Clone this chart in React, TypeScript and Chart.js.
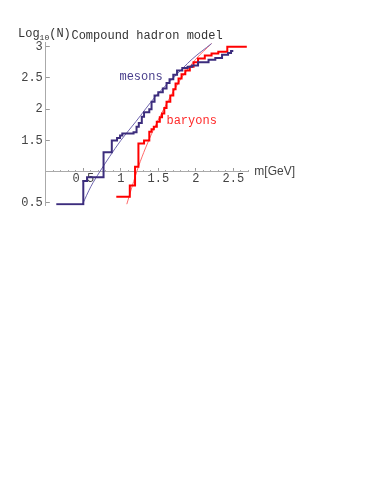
import React, { useEffect, useRef } from 'react';
import { Chart, registerables } from 'chart.js';

Chart.register(...registerables);

// ---- data (mass in GeV, log10 of cumulative number of states) ----
const mesonMass = [0.14, 0.50, 0.55, 0.77, 0.88, 0.95, 0.99, 1.02, 1.17, 1.21, 1.24, 1.28, 1.31, 1.38, 1.41, 1.45, 1.50, 1.56, 1.61, 1.65, 1.70, 1.75, 1.82, 1.89, 1.95, 2.03, 2.17, 2.26, 2.35, 2.43, 2.47, 2.50];
const mesonLog = [0.48, 0.85, 0.91, 1.31, 1.50, 1.54, 1.58, 1.61, 1.63, 1.72, 1.78, 1.88, 1.95, 2.00, 2.12, 2.22, 2.27, 2.33, 2.42, 2.48, 2.55, 2.62, 2.66, 2.68, 2.70, 2.75, 2.79, 2.82, 2.87, 2.90, 2.93, 2.93];

const baryonMass = [0.94, 1.12, 1.19, 1.235, 1.31, 1.38, 1.41, 1.44, 1.48, 1.52, 1.55, 1.58, 1.61, 1.66, 1.70, 1.73, 1.77, 1.81, 1.86, 1.92, 1.97, 2.03, 2.12, 2.21, 2.30, 2.42, 2.68];
const baryonLog = [0.60, 0.78, 1.08, 1.45, 1.50, 1.64, 1.68, 1.72, 1.80, 1.87, 1.93, 2.02, 2.12, 2.22, 2.32, 2.41, 2.49, 2.56, 2.62, 2.68, 2.75, 2.81, 2.86, 2.89, 2.92, 3.00, 3.00];

const mesonFitMass = [0.49, 0.60, 0.72, 0.85, 1.00, 1.20, 1.46, 1.70, 1.95, 2.21];
const mesonFitLog = [0.48, 0.76, 1.00, 1.24, 1.50, 1.80, 2.20, 2.50, 2.80, 3.05];

const baryonFitMass = [1.08, 1.15, 1.235, 1.33, 1.435, 1.55, 1.68, 1.82, 2.00, 2.21];
const baryonFitLog = [0.48, 0.76, 1.08, 1.38, 1.67, 1.95, 2.24, 2.52, 2.80, 3.05];

const xTicks = [0.5, 1, 1.5, 2, 2.5];
const yTicks = [0.5, 1, 1.5, 2, 2.5, 3];
const yTickHidden = [1];

const titleText = 'Compound hadron model';
const mesonLabel = 'mesons';
const baryonLabel = 'baryons';
const xAxisLabel = 'm[GeV]';

const MESON_COLOR = '#3c2d7d';
const MESON_FIT_COLOR = '#6e64ae';
const BARYON_COLOR = '#ff0000';
const BARYON_FIT_COLOR = '#ff6a6a';
const MONO = '"Liberation Mono", "DejaVu Sans Mono", monospace';

const pts = (xs: number[], ys: number[]) => xs.map((x, i) => ({ x, y: ys[i] }));

const onMinor = (v: number) => Math.abs(v * 10 - Math.round(v * 10)) < 1e-6;

const textPlugin = {
  id: 'textPlugin',
  afterDraw(chart: any) {
    const { ctx, scales } = chart;
    const xs = scales.x;
    const ys = scales.y;
    ctx.save();
    // series labels
    ctx.font = `12px ${MONO}`;
    ctx.textAlign = 'center';
    ctx.textBaseline = 'middle';
    ctx.fillStyle = '#483d8b';
    ctx.fillText(mesonLabel, xs.getPixelForValue(1.27), ys.getPixelForValue(2.51));
    ctx.fillStyle = '#ff2a2a';
    ctx.fillText(baryonLabel, xs.getPixelForValue(1.945), ys.getPixelForValue(1.81));
    // x axis label
    ctx.font = '12px "Liberation Sans", Arial, sans-serif';
    ctx.fillStyle = '#444';
    ctx.textAlign = 'left';
    ctx.fillText(xAxisLabel, chart.chartArea.right + 6, ys.getPixelForValue(1));
    // y axis label Log10(N)
    ctx.fillStyle = '#333';
    ctx.textBaseline = 'alphabetic';
    let px = 18;
    const base = 37;
    ctx.font = `12px ${MONO}`;
    ctx.fillText('Log', px, base);
    px += ctx.measureText('Log').width;
    ctx.font = `8px ${MONO}`;
    ctx.fillText('10', px, base + 3);
    px += ctx.measureText('10').width;
    ctx.font = `12px ${MONO}`;
    ctx.fillText('(N)', px, base);
    ctx.restore();
  },
};

export default function App() {
  const canvasRef = useRef<HTMLCanvasElement | null>(null);

  useEffect(() => {
    const canvas = canvasRef.current;
    if (!canvas) return;
    const chart = new Chart(canvas, {
      type: 'line',
      data: {
        datasets: [
          {
            label: 'mesons',
            data: pts(mesonMass, mesonLog),
            borderColor: MESON_COLOR,
            borderWidth: 2,
            stepped: 'before',
            pointRadius: 0,
            fill: false,
            borderJoinStyle: 'miter',
          },
          {
            label: 'baryons',
            data: pts(baryonMass, baryonLog),
            borderColor: BARYON_COLOR,
            borderWidth: 2,
            stepped: 'before',
            pointRadius: 0,
            fill: false,
            borderJoinStyle: 'miter',
          },
          {
            label: 'meson fit',
            data: pts(mesonFitMass, mesonFitLog),
            borderColor: MESON_FIT_COLOR,
            borderWidth: 1,
            cubicInterpolationMode: 'monotone',
            pointRadius: 0,
            fill: false,
          },
          {
            label: 'baryon fit',
            data: pts(baryonFitMass, baryonFitLog),
            borderColor: BARYON_FIT_COLOR,
            borderWidth: 1,
            cubicInterpolationMode: 'monotone',
            pointRadius: 0,
            fill: false,
          },
        ],
      },
      options: {
        responsive: false,
        animation: false,
        devicePixelRatio: 1,
        layout: { padding: { left: 5.8, right: 130.7, top: 28.55, bottom: 285.55 } },
        plugins: {
          legend: { display: false },
          tooltip: { enabled: false },
          title: {
            display: true,
            text: titleText,
            fullSize: false,
            color: '#333',
            font: { family: MONO, size: 12, weight: 'normal', lineHeight: 1.2 },
            padding: { top: 0, bottom: 0 },
          },
        },
        scales: {
          x: {
            type: 'linear',
            min: 0,
            max: 2.7,
            position: { y: 1 },
            afterFit: (s: any) => { s.height = 0; },
            afterBuildTicks: (s: any) => { s.ticks = xTicks.map((v) => ({ value: v })); },
            ticks: {
              autoSkip: false,
              maxRotation: 0,
              padding: 4,
              color: '#444',
              font: { family: MONO, size: 12 },
              callback: (v: any) => String(v),
            },
            grid: { drawOnChartArea: false, drawTicks: true, tickLength: -4, tickColor: '#999', tickWidth: 1 },
            border: { display: true, color: '#aaa', width: 1 },
          },
          xMinor: {
            type: 'linear',
            axis: 'x',
            min: 0,
            max: 2.7,
            position: { y: 1 },
            afterFit: (s: any) => { s.height = 0; },
            afterBuildTicks: (s: any) => { s.ticks = s.ticks.filter((t: any) => onMinor(t.value)); },
            ticks: { display: false, stepSize: 0.1, autoSkip: false },
            grid: { drawOnChartArea: false, drawTicks: true, tickLength: -2, tickColor: '#aaa', tickWidth: 1 },
            border: { display: false },
          },
          y: {
            type: 'linear',
            min: 0.46,
            max: 3.06,
            position: 'left',
            afterFit: (s: any) => { s.width = 40; },
            afterBuildTicks: (s: any) => { s.ticks = yTicks.map((v) => ({ value: v })); },
            ticks: {
              autoSkip: false,
              padding: 7,
              color: '#444',
              font: { family: MONO, size: 12 },
              callback: (v: any) => (yTickHidden.includes(v) ? '' : String(v)),
            },
            grid: { drawOnChartArea: false, drawTicks: true, tickLength: -4, tickColor: '#999', tickWidth: 1 },
            border: { display: true, color: '#aaa', width: 1 },
          },
          yMinor: {
            type: 'linear',
            axis: 'y',
            min: 0.46,
            max: 3.06,
            position: { x: 0 },
            afterFit: (s: any) => { s.width = 0; },
            afterBuildTicks: (s: any) => { s.ticks = s.ticks.filter((t: any) => onMinor(t.value)); },
            ticks: { display: false, stepSize: 0.1, autoSkip: false },
            grid: { drawOnChartArea: false, drawTicks: true, tickLength: -2, tickColor: '#aaa', tickWidth: 1 },
            border: { display: false },
          },
        },
      } as any,
      plugins: [textPlugin],
    });
    return () => chart.destroy();
  }, []);

  return (
    <div style={{ position: 'absolute', left: 0, top: 0, width: 379, height: 491, background: '#fff' }}>
      <canvas ref={canvasRef} width={379} height={491} style={{ width: 379, height: 491, display: 'block' }} />
    </div>
  );
}
